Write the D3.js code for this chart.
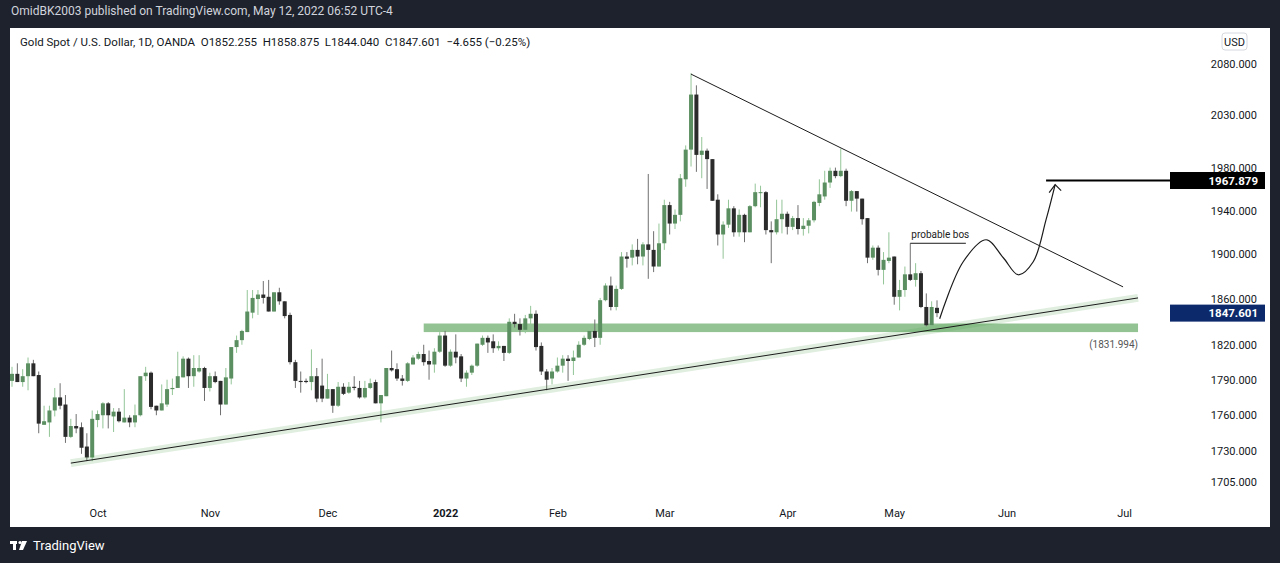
<!DOCTYPE html>
<html>
<head>
<meta charset="utf-8">
<script src="https://cdn.jsdelivr.net/npm/d3@7"></script>
<style>
  body { margin: 0; background: #1e222d; }
  svg { display: block; font-family: Roboto, "Noto Sans", sans-serif; }
</style>
</head>
<body>
<svg id="chart" width="1280" height="563"></svg>
<script>
// daily OHLC, Sep 2021 -> May 12 2022 (one bar per weekday)
const opens = [
  1789,1795,1788,1793,1804,1794,1752,1754,1764,1775,
  1769,1742,1751,1750,1734,1725,1756,1760,1770,1759,
  1763,1754,1758,1754,1760,1793,1796,1768,1764,1769,
  1782,1783,1792,1808,1793,1797,1800,1783,1793,1789,
  1769,1791,1818,1824,1831,1848,1860,1864,1862,1849,
  1866,1858,1846,1805,1789,1789,1788,1793,1785,1774,
  1782,1768,1784,1779,1784,1783,1775,1783,1788,1770,
  1776,1800,1799,1791,1789,1803,1808,
  1812,1806,1803,1814,1828,1802,1814,1810,1791,1796,
  1802,1820,1826,1823,1817,1819,1813,1840,1838,1833,
  1843,1847,1819,1797,1791,1797,1802,1808,1806,1809,
  1820,1825,1832,1826,1859,1872,1853,1869,1898,1897,
  1904,1898,1909,1904,1889,1910,1945,1928,1936,1969,
  1997,2050,1992,1996,1988,1950,1918,1927,1942,1920,
  1936,1920,1944,1957,1957,1922,1920,1932,1937,1925,1933,
  1923,1926,1931,1947,1953,1966,1977,1972,1977,1949,
  1958,1951,1933,1897,1906,1886,1894,1898,1862,1868,
  1882,1877,1883,1853,1837,1852.255
];
const highs = [
  1801,1804,1799,1809,1807,1797,1768,1768,1783,1787,
  1777,1757,1761,1754,1745,1764,1764,1771,1771,1766,
  1766,1782,1760,1769,1793,1801,1797,1768,1786,1790,
  1791,1814,1810,1809,1811,1811,1801,1796,1797,1789,
  1800,1818,1828,1833,1868,1868,1868,1876,1877,1866,
  1870,1858,1848,1807,1797,1791,1816,1800,1808,1795,
  1782,1788,1787,1788,1793,1789,1789,1791,1790,1777,
  1800,1815,1804,1794,1805,1811,1814,
  1820,1815,1817,1831,1832,1816,1829,1812,1798,1803,
  1821,1828,1828,1829,1823,1819,1843,1847,1843,1846,
  1854,1850,1822,1799,1800,1809,1811,1811,1815,1823,
  1828,1835,1842,1861,1874,1880,1872,1902,1902,1909,
  1914,1911,1974,1921,1928,1950,1948,1941,1974,2001,
  2071,2059,2009,1998,1988,1955,1930,1950,1944,1941,
  1937,1945,1965,1963,1958,1930,1950,1950,1939,1935,1945,
  1933,1933,1949,1969,1977,1980,1980,1998,1979,1959,
  1958,1951,1933,1908,1908,1902,1920,1898,1877,1889,
  1910,1892,1885,1865,1858,1858.875
];
const lows = [
  1784,1788,1784,1781,1793,1745,1752,1742,1759,1765,
  1737,1741,1745,1728,1722,1722,1750,1749,1749,1746,
  1754,1754,1750,1750,1759,1789,1765,1760,1764,1767,
  1777,1783,1792,1783,1784,1796,1772,1780,1787,1760,
  1769,1786,1813,1820,1831,1843,1846,1856,1849,1849,
  1855,1843,1803,1783,1779,1787,1781,1771,1771,1774,
  1762,1767,1777,1778,1781,1774,1774,1782,1770,1754,
  1776,1797,1789,1785,1788,1803,1807,
  1802,1790,1796,1813,1801,1801,1804,1788,1784,1794,
  1801,1819,1813,1813,1815,1806,1812,1835,1828,1830,
  1835,1815,1794,1781,1786,1796,1796,1789,1794,1809,
  1819,1824,1818,1820,1858,1850,1850,1868,1888,1890,
  1891,1890,1878,1884,1889,1904,1918,1923,1930,1962,
  1981,1976,1970,1960,1949,1908,1896,1924,1916,1916,
  1911,1920,1943,1943,1918,1892,1918,1919,1918,1922,1918,
  1917,1919,1929,1944,1950,1961,1970,1971,1944,1939,
  1939,1927,1892,1895,1881,1873,1892,1855,1850,1862,
  1876,1871,1852,1836,1832,1844.04
];
const closes = [
  1795,1788,1793,1804,1793,1753,1755,1764,1775,1768,
  1742,1751,1749,1733,1725,1757,1761,1770,1760,1763,
  1755,1758,1754,1760,1793,1796,1767,1764,1770,1782,
  1783,1793,1808,1793,1800,1800,1783,1793,1788,1769,
  1792,1818,1824,1832,1849,1861,1864,1861,1849,1866,
  1858,1845,1805,1789,1788,1788,1793,1774,1774,1782,
  1768,1784,1778,1784,1783,1775,1783,1787,1770,1777,
  1800,1798,1791,1789,1804,1809,1812,
  1805,1803,1814,1828,1802,1814,1809,1791,1796,1802,
  1821,1826,1822,1817,1819,1813,1840,1838,1833,1843,
  1847,1818,1797,1790,1797,1802,1808,1806,1809,1820,
  1826,1832,1826,1859,1872,1853,1869,1898,1896,1904,
  1898,1909,1904,1889,1910,1945,1928,1936,1970,1997,
  2050,1992,1996,1988,1949,1918,1927,1942,1920,1936,
  1920,1944,1957,1957,1922,1920,1932,1937,1925,1933,1923,
  1926,1931,1948,1955,1966,1977,1972,1977,1949,1958,
  1951,1932,1897,1906,1886,1895,1897,1862,1868,1882,
  1877,1883,1853,1837,1853,1847.601
];

const priceTicks = [1705, 1730, 1760, 1790, 1820, 1860, 1900, 1940, 1980, 2030, 2080];
const monthBars = [16, 37, 59, 81, 102, 122, 145, 165, 186, 208];
const monthLabels = ["Oct", "Nov", "Dec", "2022", "Feb", "Mar", "Apr", "May", "Jun", "Jul"];

// drawings: [bar index, price]
const risingLine = [[11, 1720.4], [210.6, 1861]];
const fallingLine = [[127, 2070], [207.8, 1870.8]];
const supportZone = { from: 77, to: 210.6, low: 1831, high: 1838.5, level: 1831.994 };
const bosLine = [[168, 1910], [178.4, 1910]];
const targetLine = [[193.4, 1967.879], [219, 1967.879]];
const projection = [[173.5, 1842.7], [177.9, 1893.3], [182.2, 1913.2], [185.4, 1896.9],
                    [188.2, 1881.6], [191, 1893.3], [193.4, 1931.6], [195.1, 1964]];

const green = "#5b8f61", greenWick = "#93c597", dark = "#2b2b2b", darkWick = "#6f6f6f";

const svg = d3.select("#chart");
const x = d3.scaleLinear().domain([0, 173]).range([12, 937]);
const y = d3.scaleLog().domain([1705, 2080]).range([482, 64]);

svg.append("text").attr("x", 11).attr("y", 15).attr("fill", "#d1d4dc")
  .style("font-size", "12px").text("OmidBK2003 published on TradingView.com, May 12, 2022 06:52 UTC-4");

svg.append("rect").attr("x", 10).attr("y", 28).attr("width", 1260).attr("height", 499).attr("fill", "#fff");

svg.append("defs").append("clipPath").attr("id", "plot")
  .append("rect").attr("x", 10).attr("y", 28).attr("width", 1158).attr("height", 472);

const plot = svg.append("g").attr("clip-path", "url(#plot)");

// support zone
plot.append("rect")
  .attr("x", x(supportZone.from)).attr("width", x(supportZone.to) - x(supportZone.from))
  .attr("y", y(supportZone.high)).attr("height", y(supportZone.low) - y(supportZone.high))
  .attr("fill", "#93c393");

// candles
const bars = d3.range(closes.length);
plot.selectAll(".wick").data(bars).enter().append("line")
  .attr("x1", i => x(i)).attr("x2", i => x(i))
  .attr("y1", i => y(highs[i])).attr("y2", i => y(lows[i]))
  .attr("stroke", i => closes[i] >= opens[i] ? greenWick : darkWick).attr("stroke-width", 1);

plot.selectAll(".body").data(bars).enter().append("rect")
  .attr("x", i => x(i) - 2).attr("width", 4)
  .attr("y", i => y(Math.max(opens[i], closes[i])))
  .attr("height", i => Math.max(1, Math.abs(y(opens[i]) - y(closes[i]))))
  .attr("fill", i => closes[i] >= opens[i] ? green : dark);

const line = d3.line().x(d => x(d[0])).y(d => y(d[1]));

// trendlines
plot.append("path").attr("d", line(risingLine)).attr("stroke", "rgba(76,160,80,0.18)")
  .attr("stroke-width", 8).attr("fill", "none");
plot.append("path").attr("d", line(risingLine)).attr("stroke", "#1b1b1b").attr("fill", "none");
plot.append("path").attr("d", line(fallingLine)).attr("stroke", "#1b1b1b").attr("fill", "none");

svg.append("text").attr("x", x(supportZone.to)).attr("y", y(supportZone.level) + 17)
  .attr("text-anchor", "end").attr("fill", "#555").style("font-size", "10px")
  .text("(" + supportZone.level.toFixed(3) + ")");

// probable bos
plot.append("path").attr("d", line(bosLine)).attr("stroke", "#1b1b1b").attr("fill", "none");
plot.append("text").attr("x", x(bosLine[0][0]) + 1).attr("y", y(1910) - 5)
  .attr("fill", "#222").style("font-size", "10px").text("probable bos");

// projected path + arrow
plot.append("path").attr("d", line.curve(d3.curveCatmullRom)(projection))
  .attr("stroke", "#1b1b1b").attr("fill", "none").attr("stroke-width", 1.2);
line.curve(d3.curveLinear);
const tip = projection[projection.length - 1];
const tx = x(tip[0]), ty = y(tip[1]);
plot.append("path").attr("d", `M${tx - 6},${ty + 8}L${tx},${ty}L${tx + 6},${ty + 6}`)
  .attr("stroke", "#1b1b1b").attr("fill", "none").attr("stroke-width", 1.2);

// target line
svg.append("path").attr("d", line(targetLine)).attr("stroke", "#000").attr("stroke-width", 2).attr("fill", "none");

// price axis
const yAxis = svg.append("g").attr("transform", "translate(1257,0)")
  .call(d3.axisLeft(y).tickValues(priceTicks).tickFormat(d3.format(".3f")).tickSize(0));
yAxis.select(".domain").remove();
yAxis.selectAll("text").attr("fill", "#131722").style("font-size", "11px")
  .style("font-family", "Roboto, sans-serif").attr("x", 0).attr("text-anchor", "end");

function priceTag(v, bg) {
  svg.append("rect").attr("x", 1170).attr("y", y(v) - 8.5).attr("width", 95).attr("height", 17).attr("fill", bg);
  svg.append("text").attr("x", 1258).attr("y", y(v) + 4).attr("text-anchor", "end")
    .attr("fill", "#fff").style("font-size", "11.5px").style("font-weight", "bold").text(v.toFixed(3));
}
priceTag(1967.879, "#000");
priceTag(closes[closes.length - 1], "#0c2a6b");

svg.append("rect").attr("x", 1222).attr("y", 33).attr("width", 25).attr("height", 17).attr("rx", 3)
  .attr("fill", "#fff").attr("stroke", "#d6d8de");
svg.append("text").attr("x", 1234.5).attr("y", 46).attr("text-anchor", "middle")
  .attr("fill", "#131722").style("font-size", "11px").text("USD");

// time axis
const xAxis = svg.append("g").attr("transform", "translate(0,506)")
  .call(d3.axisBottom(x).tickValues(monthBars).tickFormat((d, i) => monthLabels[i]).tickSize(0));
xAxis.select(".domain").remove();
xAxis.selectAll("text").attr("fill", "#131722").style("font-size", "11px")
  .style("font-family", "Roboto, sans-serif")
  .style("font-weight", d => d === 81 ? "bold" : "normal");

svg.append("text").attr("x", 20).attr("y", 46).attr("fill", "#131722").style("font-size", "11.5px")
  .style("white-space", "pre")
  .text("Gold Spot / U.S. Dollar, 1D, OANDA  O1852.255  H1858.875  L1844.040  C1847.601  \u22124.655 (\u22120.25%)");

// footer logo
const logo = svg.append("g").attr("fill", "#fff");
logo.append("rect").attr("x", 10).attr("y", 541).attr("width", 7).attr("height", 3);
logo.append("rect").attr("x", 13).attr("y", 541).attr("width", 3).attr("height", 9);
logo.append("circle").attr("cx", 20).attr("cy", 542.5).attr("r", 1.6);
logo.append("path").attr("d", "M22,541h5l-4,9h-4z");
svg.append("text").attr("x", 33).attr("y", 550).attr("fill", "#fff").style("font-size", "13px").text("TradingView");
</script>
</body>
</html>
